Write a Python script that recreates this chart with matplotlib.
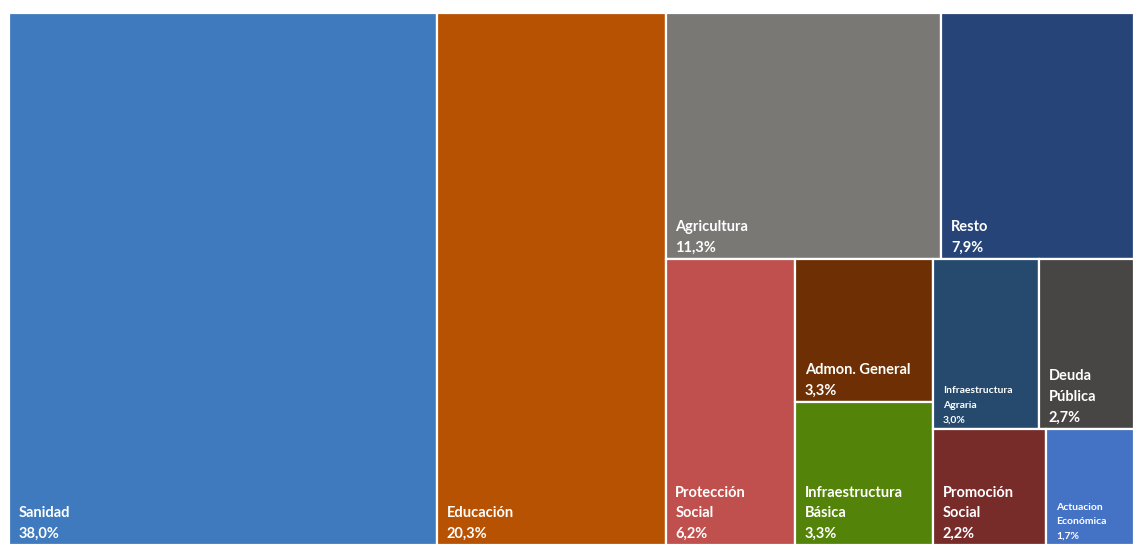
import matplotlib.pyplot as plt
from matplotlib.patches import Rectangle

# percentages shown in the treemap
labels = ['Sanidad', 'Educación', 'Agricultura', 'Resto', 'Protección\nSocial',
          'Admon. General', 'Infraestructura\nBásica', 'Infraestructura\nAgraria',
          'Deuda\nPública', 'Promoción\nSocial', 'Actuacion\nEconómica']
values = [38.0, 20.3, 11.3, 7.9, 6.2, 3.3, 3.3, 3.0, 2.7, 2.2, 1.7]
colors = ['#3E7ABD', '#B85203', '#7A7875', '#264478', '#C0504D', '#6D2F03',
          '#548309', '#254A6E', '#484545', '#772C2A', '#4472C4']
small = [False] * 7 + [True, False, False, True]

# nesting of the treemap: ('h', children) splits left-to-right, ('v', ...) top-to-bottom
layout = ('h', [0, 1,
                ('v', [('h', [2, 3]),
                       ('h', [4,
                              ('v', [5, 6]),
                              ('v', [('h', [7, 8]), ('h', [9, 10])])])])])

W, H = 1126.0, 532.0


def total(node):
    if isinstance(node, int):
        return values[node]
    return sum(total(c) for c in node[1])


rects = {}


def place(node, x, y, w, h):
    if isinstance(node, int):
        rects[node] = (x, y, w, h)
        return
    direction, children = node
    s = total(node)
    for c in children:
        frac = total(c) / s
        if direction == 'h':
            place(c, x, y, w * frac, h)
            x += w * frac
        else:
            place(c, x, y, w, h * frac)
            y += h * frac


place(layout, 0, 0, W, H)

fig = plt.figure(figsize=(11.34, 5.45), dpi=100)
ax = fig.add_axes([9 / 1134, 0, 1125 / 1134, 532 / 545])
ax.set_xlim(0, W)
ax.set_ylim(H, 0)
ax.axis('off')

for i, (x, y, w, h) in rects.items():
    ax.add_patch(Rectangle((x, y), w, h, facecolor=colors[i],
                           edgecolor='white', linewidth=1.6))
    txt = labels[i] + '\n' + f'{values[i]:.1f}'.replace('.', ',') + '%'
    ax.annotate(txt, (x, y + h), xytext=(7, 3), textcoords='offset points',
                ha='left', va='bottom', color='white', fontweight='bold',
                family='Lato', fontsize=7.5 if small[i] else 10.5,
                linespacing=1.8 if small[i] else 1.6)

fig.savefig('out.png', dpi=100)
